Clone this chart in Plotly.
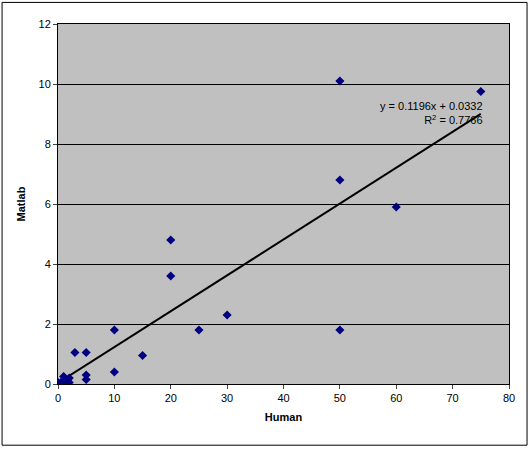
import plotly.graph_objects as go

human = [50, 75, 50, 60, 20, 20, 30, 25, 10, 50, 15, 3, 5, 10, 5, 5, 0, 0.5, 1, 1.5, 2, 2, 0]
matlab = [10.1, 9.75, 6.8, 5.9, 4.8, 3.6, 2.3, 1.8, 1.8, 1.8, 0.95, 1.05, 1.05, 0.4, 0.3, 0.15, 0.05, 0.05, 0.25, 0.05, 0.2, 0.05, 0.0]
slope, intercept = 0.1196, 0.0332
fit_x = [0, 75]
fit_y = [intercept + slope * v for v in fit_x]

fig = go.Figure()
fig.add_trace(go.Scatter(x=fit_x, y=fit_y, mode="lines", line=dict(color="black", width=2), hoverinfo="skip"))
fig.add_trace(go.Scatter(x=human, y=matlab, mode="markers",
                         marker=dict(symbol="diamond", size=7, color="#000080")))
fig.add_annotation(x=66.3, y=9.05, xref="x", yref="y", text="y = 0.1196x + 0.0332<br>R<sup>2</sup> = 0.7766",
                   showarrow=False, font=dict(size=11, color="black", family="Arial"), align="right")
fig.update_layout(
    width=530, height=449, showlegend=False,
    paper_bgcolor="white", plot_bgcolor="#C0C0C0",
    margin=dict(l=58, r=21, t=24, b=65),
    font=dict(family="Arial", size=11, color="black"),
    shapes=[dict(type="rect", xref="paper", yref="paper", x0=-0.124, x1=1.04, y0=-0.17, y1=1.06,
                 line=dict(color="black", width=1))],
)
fig.update_xaxes(range=[0, 80], dtick=10, showgrid=False, showline=True, linecolor="black", mirror=True,
                 ticks="outside", ticklen=4, title=dict(text="<b>Human</b>", font=dict(size=11), standoff=10),
                 zeroline=False)
fig.update_yaxes(range=[0, 12], dtick=2, showgrid=True, gridcolor="black", gridwidth=1, showline=True,
                 linecolor="black", mirror=True, ticks="outside", ticklen=4,
                 title=dict(text="<b>Matlab</b>", font=dict(size=11), standoff=10), zeroline=False)
fig.write_html("out.html", config={"displayModeBar": False})
with open("out.html") as f:
    html = f.read()
html = html.replace("<body>", "<body style=\"margin:0\">", 1)
with open("out.html", "w") as f:
    f.write(html)
